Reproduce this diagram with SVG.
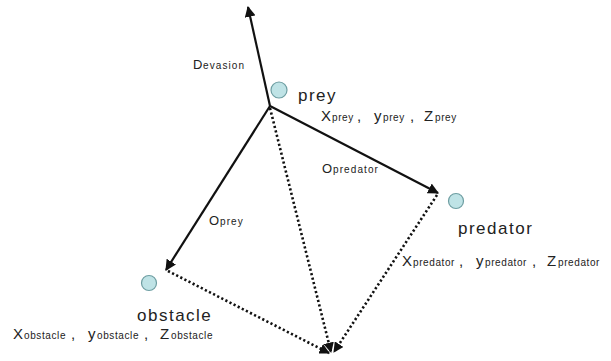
<svg xmlns="http://www.w3.org/2000/svg" width="611" height="361" viewBox="0 0 611 361">
<defs>
<marker id="ah" viewBox="0 0 10 10" refX="9" refY="5" markerWidth="5" markerHeight="5" orient="auto" markerUnits="strokeWidth">
<path d="M0,0 L10,5 L0,10 z" fill="#111"/>
</marker>
<marker id="ahd" viewBox="0 0 10 10" refX="9" refY="5" markerWidth="4" markerHeight="4" orient="auto" markerUnits="strokeWidth">
<path d="M0,0 L10,5 L0,10 z" fill="#111"/>
</marker>
</defs>
<style>
.solid{stroke:#111;stroke-width:2.2;fill:none;marker-end:url(#ah)}
.dot{stroke:#111;stroke-width:2.6;fill:none;stroke-dasharray:2.2 2.4;marker-end:url(#ahd)}
.node{fill:#bfe3e6;stroke:#6e9ea2;stroke-width:1.2}
text{font-family:"Liberation Sans",Arial,sans-serif;fill:#222}
.big{font-size:17px;letter-spacing:1.5px}
.mid{font-size:15px}
.sub{font-size:10px;letter-spacing:0.6px}
.lsub{font-size:10px;letter-spacing:1.1px}
.lbl{font-size:13px}
</style>
<rect width="611" height="361" fill="#fff"/>
<g id="connectors">
<line class="solid" x1="270" y1="106" x2="248" y2="7"/>
<line class="solid" x1="270" y1="106" x2="438" y2="193"/>
<line class="solid" x1="270" y1="106" x2="166" y2="270"/>
<line class="dot" x1="270" y1="108" x2="331" y2="352"/>
<line class="dot" x1="168" y1="271" x2="329" y2="353"/>
<line class="dot" x1="437" y1="195" x2="334" y2="352"/>
</g>
<g id="prey">
<circle class="node" cx="279" cy="90" r="8"/>
<text class="big" x="298" y="101">prey</text>
<text y="121"><tspan class="mid" x="321">X</tspan><tspan class="sub" x="332">prey</tspan><tspan class="mid" x="357">,</tspan><tspan class="mid" x="374">y</tspan><tspan class="sub" x="383">prey</tspan><tspan class="mid" x="410">,</tspan><tspan class="mid" x="424">Z</tspan><tspan class="sub" x="435">prey</tspan></text>
</g>
<g id="predator">
<circle class="node" cx="456" cy="201" r="7.5"/>
<text class="big" x="458" y="234">predator</text>
<text y="266"><tspan class="mid" x="402">X</tspan><tspan class="sub" x="413">predator</tspan><tspan class="mid" x="459">,</tspan><tspan class="mid" x="476">y</tspan><tspan class="sub" x="485">predator</tspan><tspan class="mid" x="532">,</tspan><tspan class="mid" x="547">Z</tspan><tspan class="sub" x="558">predator</tspan></text>
</g>
<g id="obstacle">
<circle class="node" cx="149" cy="283" r="7.5"/>
<text class="big" x="137" y="321">obstacle</text>
<text y="339"><tspan class="mid" x="13">X</tspan><tspan class="sub" x="24">obstacle</tspan><tspan class="mid" x="71">,</tspan><tspan class="mid" x="88">y</tspan><tspan class="sub" x="97">obstacle</tspan><tspan class="mid" x="144">,</tspan><tspan class="mid" x="160">Z</tspan><tspan class="sub" x="171">obstacle</tspan></text>
</g>
<g id="labels">
<text y="69"><tspan class="lbl" x="193">D</tspan><tspan class="lsub" x="203">evasion</tspan></text>
<text y="173"><tspan class="lbl" x="322">O</tspan><tspan class="lsub" x="333">predator</tspan></text>
<text y="225"><tspan class="lbl" x="209">O</tspan><tspan class="lsub" x="220">prey</tspan></text>
</g>
</svg>
